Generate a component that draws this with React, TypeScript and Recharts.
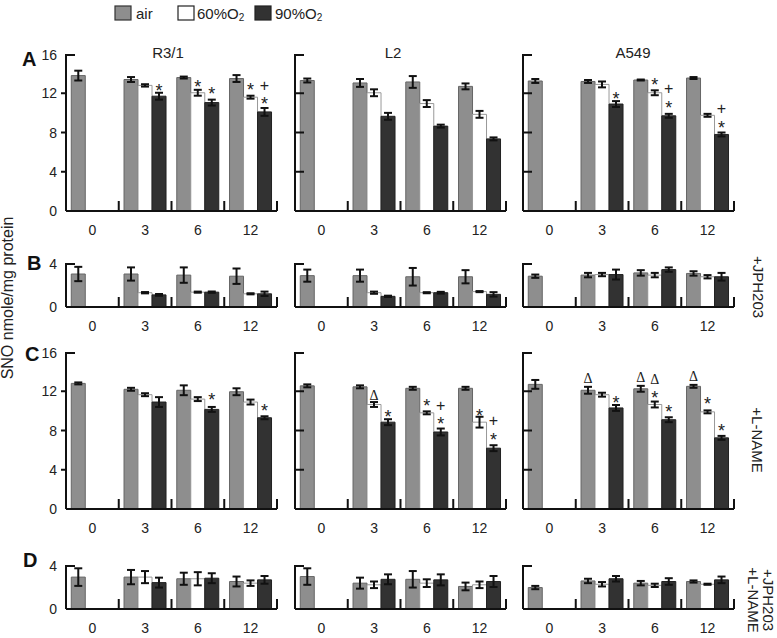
import React from "react";
import { BarChart, Bar, XAxis, YAxis, ErrorBar, LabelList } from "recharts";

const FONT = '"Liberation Sans", Arial, Helvetica, sans-serif';
const SERIF = '"Liberation Serif", "Times New Roman", serif';

const hours = ["0", "3", "6", "12"];
const cellLines = ["R3/1", "L2", "A549"];

// A: untreated
const aAir = [[13.8, 13.4, 13.6, 13.5], [13.3, 13.05, 13.15, 12.7], [13.25, 13.2, 13.35, 13.55]];
const aAirErr = [[0.5, 0.25, 0.1, 0.35], [0.2, 0.4, 0.6, 0.3], [0.2, 0.15, 0.05, 0.1]];
const aO60 = [[null, 12.8, 12.05, 11.6], [null, 12.05, 10.95, 9.85], [null, 12.9, 12.05, 9.75]];
const aO60Err = [[null, 0.12, 0.3, 0.15], [null, 0.35, 0.35, 0.35], [null, 0.3, 0.25, 0.15]];
const aO90 = [[null, 11.7, 11.05, 10.1], [null, 9.65, 8.65, 7.35], [null, 10.9, 9.7, 7.8]];
const aO90Err = [[null, 0.35, 0.3, 0.4], [null, 0.35, 0.15, 0.15], [null, 0.3, 0.2, 0.2]];
const aMark60 = [["", "", "*", "*"], ["", "", "", ""], ["", "", "*", ""]];
const aMark90 = [["", "*", "*", "+*"], ["", "", "", ""], ["", "*", "+*", "+*"]];

// B: +JPH203
const bAir = [[3.0, 3.0, 2.9, 2.8], [2.85, 2.85, 2.75, 2.75], [2.8, 2.9, 3.1, 3.05]];
const bAirErr = [[0.65, 0.6, 0.7, 0.7], [0.55, 0.55, 0.8, 0.6], [0.15, 0.2, 0.25, 0.2]];
const bO60 = [[null, 1.3, 1.35, 1.2], [null, 1.3, 1.3, 1.4], [null, 2.95, 2.9, 2.75]];
const bO60Err = [[null, 0.06, 0.05, 0.05], [null, 0.1, 0.05, 0.05], [null, 0.15, 0.2, 0.15]];
const bO90 = [[null, 1.1, 1.35, 1.2], [null, 0.97, 1.3, 1.15], [null, 2.95, 3.4, 2.75]];
const bO90Err = [[null, 0.08, 0.06, 0.2], [null, 0.06, 0.08, 0.2], [null, 0.45, 0.2, 0.35]];

// C: +L-NAME
const cAir = [[12.8, 12.2, 12.1, 11.95], [12.55, 12.45, 12.3, 12.3], [12.7, 12.1, 12.25, 12.5]];
const cAirErr = [[0.1, 0.15, 0.5, 0.35], [0.15, 0.15, 0.15, 0.15], [0.45, 0.35, 0.3, 0.15]];
const cO60 = [[null, 11.65, 11.2, 10.9], [null, 10.65, 9.8, 8.85], [null, 11.65, 10.65, 9.9]];
const cO60Err = [[null, 0.15, 0.2, 0.25], [null, 0.25, 0.15, 0.55], [null, 0.2, 0.3, 0.15]];
const cO90 = [[null, 10.9, 10.15, 9.3], [null, 8.85, 7.85, 6.2], [null, 10.3, 9.1, 7.25]];
const cO90Err = [[null, 0.5, 0.25, 0.15], [null, 0.3, 0.35, 0.3], [null, 0.3, 0.25, 0.2]];
const cMarkAir = [["", "", "", ""], ["", "", "", ""], ["", "Δ", "Δ", "Δ"]];
const cMark60 = [["", "", "", ""], ["", "Δ", "*", "*"], ["", "", "Δ*", "*"]];
const cMark90 = [["", "", "*", "*"], ["", "*", "+*", "+*"], ["", "*", "*", "*"]];

// D: +JPH203 +L-NAME
const dAir = [[2.9, 2.9, 2.75, 2.5], [2.95, 2.35, 2.7, 2.05], [1.95, 2.55, 2.35, 2.5]];
const dAirErr = [[0.8, 0.65, 0.55, 0.45], [0.75, 0.5, 0.75, 0.35], [0.15, 0.2, 0.2, 0.1]];
const dO60 = [[null, 2.9, 2.75, 2.35], [null, 2.2, 2.35, 2.2], [null, 2.25, 2.15, 2.25]];
const dO60Err = [[null, 0.55, 0.6, 0.25], [null, 0.3, 0.35, 0.3], [null, 0.2, 0.15, 0.05]];
const dO90 = [[null, 2.4, 2.8, 2.65], [null, 2.7, 2.65, 2.5], [null, 2.75, 2.5, 2.65]];
const dO90Err = [[null, 0.45, 0.45, 0.35], [null, 0.45, 0.5, 0.5], [null, 0.25, 0.3, 0.3]];

const rows = [
  { letter: "A", top: 54, h: 157, max: 16, ticks: [0, 4, 8, 12, 16], air: aAir, airErr: aAirErr, o60: aO60, o60Err: aO60Err, o90: aO90, o90Err: aO90Err, mAir: null, m60: aMark60, m90: aMark90 },
  { letter: "B", top: 263, h: 44, max: 4, ticks: [0, 4], air: bAir, airErr: bAirErr, o60: bO60, o60Err: bO60Err, o90: bO90, o90Err: bO90Err, mAir: null, m60: null, m90: null },
  { letter: "C", top: 352, h: 157, max: 16, ticks: [0, 4, 8, 12, 16], air: cAir, airErr: cAirErr, o60: cO60, o60Err: cO60Err, o90: cO90, o90Err: cO90Err, mAir: cMarkAir, m60: cMark60, m90: cMark90 },
  { letter: "D", top: 565, h: 44, max: 4, ticks: [0, 4], air: dAir, airErr: dAirErr, o60: dO60, o60Err: dO60Err, o90: dO90, o90Err: dO90Err, mAir: null, m60: null, m90: null },
];

const COL_X = [66, 295, 523];
const PW = 211;
const YW = 40;
const MT = 8;
const MR = 6;
const XH = 30;
const INK = "#111";

function buildData(r: any, c: number) {
  return hours.map((t, i) => ({
    t,
    air: r.air[c][i],
    airErr: r.airErr[c][i],
    o60: r.o60[c][i],
    o60Err: r.o60Err[c][i],
    o90: r.o90[c][i],
    o90Err: r.o90Err[c][i],
    mAir: r.mAir ? r.mAir[c][i] : "",
    m60: r.m60 ? r.m60[c][i] : "",
    m90: r.m90 ? r.m90[c][i] : "",
  }));
}

// glyph style for each significance symbol: size, font, baseline shift from centre
const glyph = (ch: string) => {
  if (ch === "*") return { size: 18, family: FONT, dy: 10.3 };
  if (ch === "+") return { size: 16, family: FONT, dy: 5.6 };
  return { size: 14, family: SERIF, dy: 5 };
};

const markContent = (data: any[], errKey: string, ppu: number) => (p: any) => {
  const value = p.value;
  if (!value) return null;
  const vb = p.viewBox || {};
  const x = p.x ?? vb.x;
  const y = p.y ?? vb.y;
  const w = p.width ?? vb.width;
  const err = (data[p.index] && data[p.index][errKey]) || 0;
  const cx = x + w / 2;
  const base = y - err * ppu - 9;
  const chars = Array.from(String(value));
  const n = chars.length;
  // stacked symbols: the last one sits right above the bar
  return (
    <g>
      {chars.map((ch, k) => {
        const g = glyph(ch);
        const cy = base - (n - 1 - k) * 15;
        return (
          <text key={k} x={cx} y={cy + g.dy} textAnchor="middle" fontSize={g.size} fontFamily={g.family} fill="#222">
            {ch}
          </text>
        );
      })}
    </g>
  );
};

function YTick({ x, y, payload, max, first }: any) {
  const v = payload.value;
  let tick = null;
  if (v === max) tick = <line x1={x} x2={x + 9} y1={y} y2={y} stroke={INK} strokeWidth={2} />;
  else if (v !== 0)
    tick = first ? (
      <line x1={x - 5} x2={x} y1={y} y2={y} stroke={INK} strokeWidth={2} />
    ) : (
      <line x1={x} x2={x + 9} y1={y} y2={y} stroke={INK} strokeWidth={2} />
    );
  return (
    <g>
      {tick}
      {first && (
        <text x={x - 9} y={y + 5} textAnchor="end" fontSize={14} fontFamily={FONT} fill="#222">
          {v}
        </text>
      )}
    </g>
  );
}

function XTick({ x, y, payload }: any) {
  const bw = PW / hours.length;
  return (
    <g>
      <line x1={x + bw / 2} x2={x + bw / 2} y1={y} y2={y - 10} stroke={INK} strokeWidth={2} />
      <text x={x} y={y + 24} textAnchor="middle" fontSize={14} fontFamily={FONT} fill="#222">
        {payload.value}
      </text>
    </g>
  );
}

function Panel({ r, c }: any) {
  const data = buildData(r, c);
  const ppu = r.h / r.max;
  return (
    <div style={{ position: "absolute", left: COL_X[c] - YW, top: r.top - MT }}>
      <BarChart
        width={YW + PW + MR}
        height={MT + r.h + XH}
        data={data}
        margin={{ top: MT, right: MR, left: 0, bottom: 0 }}
        barCategoryGap="10%"
        barGap={0}
      >
        <Bar dataKey="air" fill="#8e8e8e" stroke="#666" strokeWidth={1} isAnimationActive={false}>
          <ErrorBar dataKey="airErr" width={4} strokeWidth={2} stroke={INK} />
          <LabelList dataKey="mAir" content={markContent(data, "airErr", ppu)} />
        </Bar>
        <Bar dataKey="o60" fill="#ffffff" stroke="#999" strokeWidth={1} isAnimationActive={false}>
          <ErrorBar dataKey="o60Err" width={4} strokeWidth={2} stroke={INK} />
          <LabelList dataKey="m60" content={markContent(data, "o60Err", ppu)} />
        </Bar>
        <Bar dataKey="o90" fill="#323232" stroke="#222" strokeWidth={1} isAnimationActive={false}>
          <ErrorBar dataKey="o90Err" width={4} strokeWidth={2} stroke={INK} />
          <LabelList dataKey="m90" content={markContent(data, "o90Err", ppu)} />
        </Bar>
        <XAxis
          dataKey="t"
          interval={0}
          height={XH}
          axisLine={{ stroke: INK, strokeWidth: 2 }}
          tickLine={false}
          tickSize={0}
          tickMargin={0}
          tick={(p: any) => <XTick {...p} />}
        />
        <YAxis
          domain={[0, r.max]}
          ticks={r.ticks}
          width={YW}
          allowDataOverflow
          axisLine={{ stroke: INK, strokeWidth: 2 }}
          tickLine={false}
          tickSize={0}
          tickMargin={0}
          tick={(p: any) => <YTick {...p} max={r.max} first={c === 0} />}
        />
      </BarChart>
    </div>
  );
}

const letterPos = [
  { x: 22, y: 66 },
  { x: 27, y: 270 },
  { x: 25, y: 361 },
  { x: 23, y: 567 },
];
const titleX = [168, 393, 633];

export default function App() {
  return (
    <div style={{ position: "absolute", left: 0, top: 0, width: 777, height: 638, background: "#fff", fontFamily: FONT }}>
      {rows.map((r) => cellLines.map((_, c) => <Panel key={r.letter + c} r={r} c={c} />))}
      <svg width={777} height={638} style={{ position: "absolute", left: 0, top: 0, pointerEvents: "none" }}>
        {/* legend */}
        <rect x={115} y={6} width={16} height={14} fill="#8e8e8e" stroke="#333" strokeWidth={1.2} />
        <text x={136} y={19} fontSize={15} fontFamily={FONT} fill="#222">air</text>
        <rect x={178} y={6} width={16} height={14} fill="#fff" stroke="#222" strokeWidth={1.2} />
        <text x={197} y={19} fontSize={15} fontFamily={FONT} fill="#222">
          60%O<tspan fontSize={10} dy={2}>2</tspan>
        </text>
        <rect x={255} y={6} width={16} height={14} fill="#323232" stroke="#222" strokeWidth={1.2} />
        <text x={275} y={19} fontSize={15} fontFamily={FONT} fill="#222">
          90%O<tspan fontSize={10} dy={2}>2</tspan>
        </text>

        {cellLines.map((name, c) => (
          <text key={name} x={titleX[c]} y={58} textAnchor="middle" fontSize={15} fontFamily={FONT} fill="#222">
            {name}
          </text>
        ))}

        {rows.map((r, i) => (
          <text key={r.letter} x={letterPos[i].x} y={letterPos[i].y} fontSize={20} fontWeight="bold" fontFamily={FONT} fill="#111">
            {r.letter}
          </text>
        ))}

        <text x={13} y={298} transform="rotate(-90, 13, 298)" textAnchor="middle" fontSize={16} fontFamily={FONT} fill="#222">
          SNO nmole/mg protein
        </text>

        <text x={753} y={287} transform="rotate(90, 753, 287)" textAnchor="middle" fontSize={15} fontFamily={FONT} fill="#222">
          +JPH203
        </text>
        <text x={752} y={440} transform="rotate(90, 752, 440)" textAnchor="middle" fontSize={15} fontFamily={FONT} fill="#222">
          +L-NAME
        </text>
        <text x={763} y={600} transform="rotate(90, 763, 600)" textAnchor="middle" fontSize={15} fontFamily={FONT} fill="#222">
          +JPH203
        </text>
        <text x={748} y={600} transform="rotate(90, 748, 600)" textAnchor="middle" fontSize={15} fontFamily={FONT} fill="#222">
          +L-NAME
        </text>
      </svg>
    </div>
  );
}
